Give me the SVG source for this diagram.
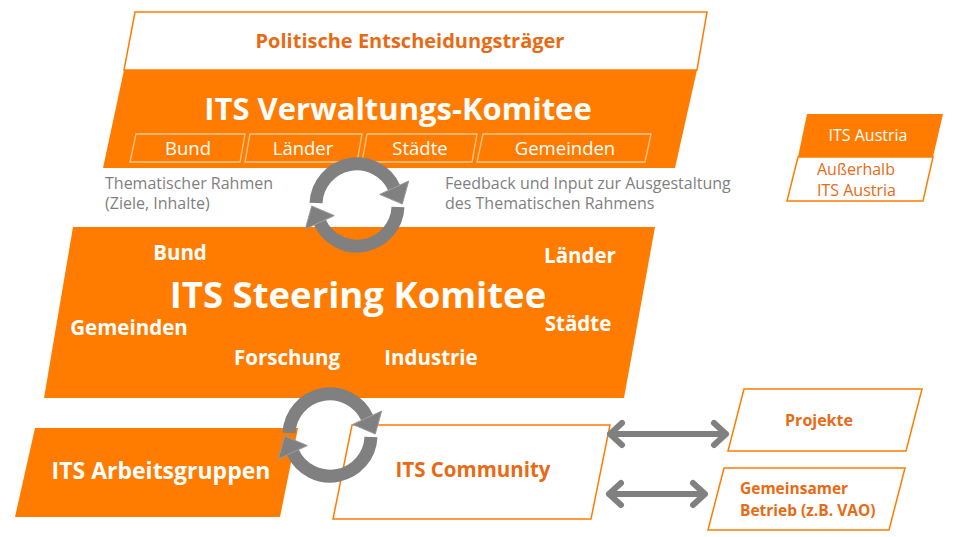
<svg xmlns="http://www.w3.org/2000/svg" width="960" height="537" viewBox="0 0 960 537">
<style>
.of{fill:#FF7C00;stroke:none}
.ow{fill:#FFFFFF;stroke:#FF7C00;stroke-width:1.5}
.sub{fill:none;stroke:#FBC590;stroke-width:1.3}
text{font-family:"Open Sans",Lato,"Liberation Sans",sans-serif}
.wb{fill:#FFFFFF;font-weight:bold}
.wr{fill:#FFFFFF}
.ob{fill:#E86A14;font-weight:bold}
.or{fill:#E86A14}
.g{fill:#7F7F7F;font-size:16px}
.ring{fill:none;stroke:#808080;stroke-width:13}
.head{fill:#808080;stroke:#9A9A9A;stroke-width:1}
.dbl{fill:none;stroke:#808080;stroke-width:6;stroke-linecap:round;stroke-linejoin:round}
</style>
<defs>
<g id="cycle">
<path class="ring" d="M -41 -2 A 41 41 0 0 1 37.16 -17.33"/>
<polygon class="head" points="51.7,-24 22.7,-10.6 45.3,-1"/>
<path class="ring" d="M 41 2 A 41 41 0 0 1 -37.16 17.33"/>
<polygon class="head" points="-51.7,24 -22.7,10.6 -45.3,1"/>
</g>
</defs>
<rect width="960" height="537" fill="#FFFFFF"/>

<g id="politische">
<polygon class="ow" points="135,12 707,12 697,70 124,70"/>
<text class="ob" x="410" y="48" font-size="20" text-anchor="middle">Politische Entscheidungsträger</text>
</g>

<g id="verwaltung">
<polygon class="of" points="124,70 697,70 675,168 103,168"/>
<text class="wb" x="398" y="120" font-size="31" text-anchor="middle">ITS Verwaltungs-Komitee</text>
<polygon class="sub" points="136,134 245,134 240,162 130,162"/>
<polygon class="sub" points="250,134 362,134 357,162 245,162"/>
<polygon class="sub" points="367,134 477,134 472,162 362,162"/>
<polygon class="sub" points="483,134 651,134 645,162 477,162"/>
<text class="wr" x="188" y="155" font-size="18.5" text-anchor="middle">Bund</text>
<text class="wr" x="303" y="155" font-size="18.5" text-anchor="middle">Länder</text>
<text class="wr" x="420" y="155" font-size="18.5" text-anchor="middle">Städte</text>
<text class="wr" x="565" y="155" font-size="18.5" text-anchor="middle">Gemeinden</text>
</g>

<g id="labels">
<text class="g" x="105" y="189">Thematischer Rahmen</text>
<text class="g" x="105" y="209">(Ziele, Inhalte)</text>
<text class="g" x="445" y="189">Feedback und Input zur Ausgestaltung</text>
<text class="g" x="445" y="209">des Thematischen Rahmens</text>
</g>

<g id="steering">
<polygon class="of" points="73,227 655,227 624,398 44,398"/>
<text class="wb" x="180" y="260" font-size="20.5" text-anchor="middle">Bund</text>
<text class="wb" x="580" y="263" font-size="20.5" text-anchor="middle">Länder</text>
<text class="wb" x="358" y="308" font-size="36.5" text-anchor="middle">ITS Steering Komitee</text>
<text class="wb" x="129" y="335" font-size="20.5" text-anchor="middle">Gemeinden</text>
<text class="wb" x="578" y="331" font-size="20.5" text-anchor="middle">Städte</text>
<text class="wb" x="287" y="365" font-size="20.5" text-anchor="middle">Forschung</text>
<text class="wb" x="431" y="365" font-size="20.5" text-anchor="middle">Industrie</text>
</g>

<g id="arbeitsgruppen">
<polygon class="of" points="35,428 298,428 280,517 15,517"/>
<text class="wb" x="161" y="479" font-size="23" text-anchor="middle">ITS Arbeitsgruppen</text>
</g>

<g id="community">
<polygon class="ow" points="352,425 610,425 591,519 333,519"/>
<text class="ob" x="473" y="477" font-size="20.5" text-anchor="middle">ITS Community</text>
</g>

<g id="projekte">
<polygon class="ow" points="744,389 922,389 906,451 728,451"/>
<text class="ob" x="819" y="426" font-size="16" text-anchor="middle">Projekte</text>
</g>

<g id="betrieb">
<polygon class="ow" points="724,468 905,468 889,530 708,530"/>
<text class="ob" x="740" y="494" font-size="15.5">Gemeinsamer</text>
<text class="ob" x="740" y="516" font-size="15.5">Betrieb (z.B. VAO)</text>
</g>

<g id="legend">
<polygon class="of" points="807,114 943,114 933,157 798,157"/>
<polygon fill="#FFFFFF" stroke="#FF7C00" stroke-width="1.5" points="798,157 933,157 923,201 787,201"/>
<text class="wr" x="868" y="141" font-size="16" text-anchor="middle">ITS Austria</text>
<text class="or" x="817" y="175" font-size="16">Außerhalb</text>
<text class="or" x="817" y="196" font-size="16">ITS Austria</text>
</g>

<g id="connectors">
<use href="#cycle" transform="translate(357,205)"/>
<use href="#cycle" transform="translate(330,435)"/>
<path class="dbl" d="M 610 434 L 726 434 M 622 423 L 610 434 L 622 445 M 714 423 L 726 434 L 714 445"/>
<path class="dbl" d="M 609 494 L 705 494 M 621 483 L 609 494 L 621 505 M 693 483 L 705 494 L 693 505"/>
</g>
</svg>
